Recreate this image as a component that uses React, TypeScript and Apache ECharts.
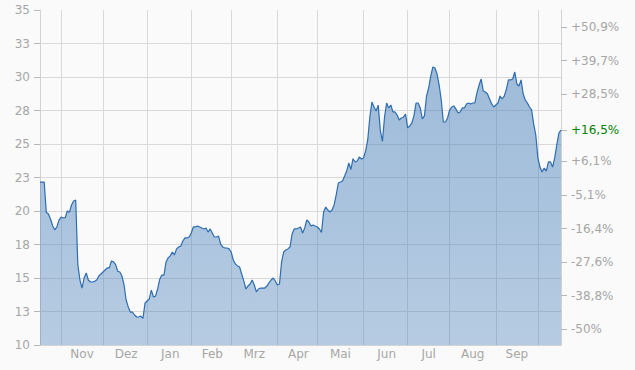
import React, { useEffect, useRef } from "react";
import * as echarts from "echarts";

// Month segments (trading days), German month abbreviations
const monthNames = ["Okt", "Nov", "Dez", "Jan", "Feb", "Mrz", "Apr", "Mai", "Jun", "Jul", "Aug", "Sep", "Okt"];
const monthLabelShown = [false, true, true, true, true, true, true, true, true, true, true, true, false];

// Daily closing prices per month
const okt1 = [22.16, 22.16, 22.16, 19.9, 19.78, 19.4, 18.9, 18.6, 18.8, 19.3];
const nov = [19.55, 19.48, 19.5, 20.0, 19.9, 20.45, 20.75, 20.82, 16.0, 14.85, 14.25, 15.0, 15.37, 14.85, 14.7, 14.7, 14.75, 14.85, 15.15, 15.3];
const dez = [15.45, 15.6, 15.75, 15.75, 16.27, 16.2, 16.0, 15.5, 15.45, 15.15, 14.48, 13.36, 12.84, 12.46, 12.46, 12.24, 12.09, 12.09, 12.16, 11.98, 13.13];
const jan = [13.28, 13.43, 14.1, 13.58, 13.65, 14.18, 14.9, 15.22, 15.22, 16.2, 16.5, 16.65, 16.94, 16.72, 17.17, 17.31, 17.38, 17.76, 17.99, 17.99, 18.06];
const feb = [18.36, 18.81, 18.81, 18.88, 18.81, 18.73, 18.66, 18.73, 18.43, 18.66, 18.36, 18.06, 18.06, 18.13, 17.53, 17.31, 17.24, 17.24, 17.17];
const mrz = [16.94, 16.34, 16.05, 15.9, 15.82, 15.3, 14.78, 14.18, 14.4, 14.55, 14.85, 14.48, 13.96, 14.18, 14.25, 14.25, 14.25, 14.4, 14.63, 14.85, 15.0, 14.78];
const apr = [14.48, 14.55, 16.2, 16.94, 17.09, 17.17, 17.31, 18.28, 18.66, 18.66, 18.73, 18.81, 18.36, 18.73, 19.33, 19.18, 18.88, 18.96, 18.88];
const mai = [18.81, 18.66, 18.4, 19.93, 20.3, 20.07, 19.93, 20.07, 20.45, 21.2, 22.09, 22.16, 22.24, 22.61, 22.99, 23.58, 23.1, 23.9, 23.66, 23.73, 24.03, 23.88];
const jun = [23.96, 24.48, 25.3, 27.0, 28.13, 27.76, 27.46, 27.9, 26.0, 25.2, 27.0, 28.06, 27.69, 27.91, 27.39, 27.39, 27.16, 26.79, 26.94, 27.0, 27.24];
const jul = [26.2, 26.34, 26.57, 27.1, 28.06, 28.06, 27.69, 26.87, 27.1, 28.58, 29.18, 30.07, 30.75, 30.67, 30.22, 29.4, 28.28, 26.64, 26.64, 26.94];
const aug = [27.54, 27.76, 27.84, 27.6, 27.31, 27.39, 27.69, 27.69, 27.99, 28.06, 27.99, 28.06, 28.06, 28.81, 29.4, 29.85, 28.96, 28.88, 28.73, 28.36, 27.99, 27.76];
const sep = [27.91, 28.06, 28.58, 28.36, 28.58, 29.1, 29.78, 29.78, 29.85, 30.37, 29.48, 29.33, 29.78, 28.73, 28.28, 28.06, 27.76, 27.54, 26.49, 25.67];
const okt2 = [23.96, 23.28, 22.91, 23.21, 22.98, 23.66, 23.66, 23.28, 23.96, 24.93, 25.82, 26.04];

const monthValues = [okt1, nov, dez, jan, feb, mrz, apr, mai, jun, jul, aug, sep, okt2];

// Left axis
const leftMin = 10;
const leftMax = 35;
const leftInterval = 2.5;
const leftTickLabels = ["10", "13", "15", "18", "20", "23", "25", "28", "30", "33", "35"];

// Right axis (performance relative to base price)
const basePrice = 22.35;
const pctTicks = [-50, -38.8, -27.6, -16.4, -5.1, 6.1, 16.5, 28.5, 39.7, 50.9];
const pctLabels = ["-50%", "-38,8%", "-27,6%", "-16,4%", "-5,1%", "+6,1%", "+16,5%", "+28,5%", "+39,7%", "+50,9%"];
const currentPctIndex = 6;

const FONT = "DejaVu Sans";
const LABEL_COLOR = "#a6a6a6";

export default function App() {
  const ref = useRef<HTMLDivElement>(null);

  useEffect(() => {
    if (!ref.current) return;
    const chart = echarts.init(ref.current, null, { renderer: "svg" });

    const categories: string[] = [];
    const values: number[] = [];
    const monthStart = new Set<number>();
    const labelIdx = new Map<number, string>();
    monthValues.forEach((arr, m) => {
      const start = values.length;
      if (m > 0) monthStart.add(start);
      arr.forEach((v, j) => {
        categories.push(monthNames[m] + "-" + (j + 1));
        values.push(v);
      });
      if (monthLabelShown[m]) {
        const end = values.length; // next month start
        labelIdx.set(Math.round((start + end) / 2), monthNames[m]);
      }
    });

    const rightValues = pctTicks.map((p) => basePrice * (1 + p / 100));

    chart.setOption({
      animation: false,
      backgroundColor: "#fafafa",
      grid: { left: 40, right: 74, top: 10, bottom: 25, outerBoundsMode: "none", containLabel: false },
      xAxis: {
        type: "category",
        data: categories,
        boundaryGap: false,
        axisLine: { show: true, lineStyle: { color: "#d2d2d2", width: 1 } },
        axisTick: { show: false },
        splitLine: {
          show: true,
          interval: (i: number) => monthStart.has(i),
          lineStyle: { color: "#d9d9d9", width: 1 },
        },
        axisLabel: {
          interval: (i: number) => labelIdx.has(i),
          formatter: (_v: string, i: number) => labelIdx.get(i) || "",
          color: LABEL_COLOR,
          fontFamily: FONT,
          fontSize: 12,
          margin: 3,
          hideOverlap: false,
        },
      },
      yAxis: [
        {
          type: "value",
          position: "left",
          min: leftMin,
          max: leftMax,
          interval: leftInterval,
          axisLine: { show: true, lineStyle: { color: "#d2d2d2", width: 1 } },
          axisTick: { show: true, length: 6, lineStyle: { color: "#b8b8b8" } },
          splitLine: { show: true, showMaxLine: false, lineStyle: { color: "#d9d9d9", width: 1 } },
          axisLabel: {
            color: LABEL_COLOR,
            fontFamily: FONT,
            fontSize: 12,
            margin: 10,
            formatter: (v: number) => {
              const k = Math.round((v - leftMin) / leftInterval);
              return leftTickLabels[k] ?? "";
            },
          },
        },
        {
          type: "value",
          position: "right",
          min: leftMin,
          max: leftMax,
          axisLine: { show: true, lineStyle: { color: "#d2d2d2", width: 1 } },
          axisTick: { show: true, length: 6, customValues: rightValues, lineStyle: { color: "#b8b8b8" } },
          splitLine: { show: false },
          axisLabel: {
            customValues: rightValues,
            color: LABEL_COLOR,
            fontFamily: FONT,
            fontSize: 12,
            margin: 10,
            formatter: (v: number) => {
              let best = 0;
              let bd = Infinity;
              rightValues.forEach((rv, k) => {
                const d = Math.abs(rv - v);
                if (d < bd) {
                  bd = d;
                  best = k;
                }
              });
              return best === currentPctIndex ? "{g|" + pctLabels[best] + "}" : pctLabels[best];
            },
            rich: {
              g: { color: "#008000", fontFamily: FONT, fontSize: 12 },
            },
          },
        },
      ],
      series: [
        {
          type: "line",
          data: values,
          yAxisIndex: 0,
          symbol: "none",
          smooth: false,
          lineStyle: { color: "#2d6db0", width: 1.2 },
          areaStyle: {
            origin: "start",
            opacity: 1,
            color: new echarts.graphic.LinearGradient(0, 0, 0, 1, [
              { offset: 0, color: "rgba(66,124,184,0.50)" },
              { offset: 1, color: "rgba(66,124,184,0.37)" },
            ]),
          },
        },
      ],
    });

    return () => chart.dispose();
  }, []);

  return (
    <div
      ref={ref}
      style={{ position: "absolute", left: 0, top: 0, width: 635, height: 370, background: "#fafafa" }}
    />
  );
}
